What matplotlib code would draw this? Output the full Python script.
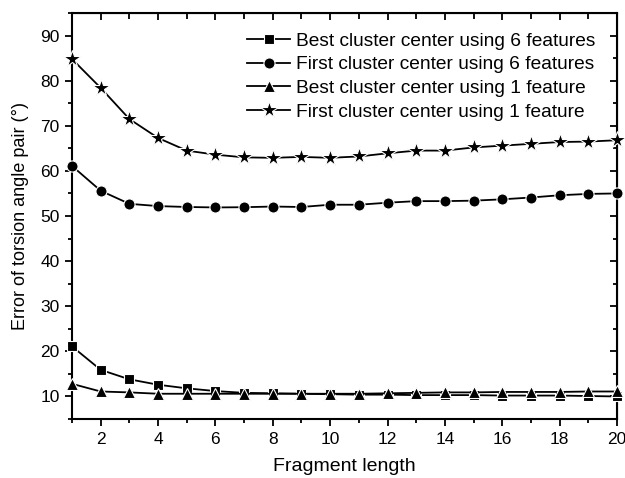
import matplotlib
matplotlib.use("Agg")
import matplotlib.pyplot as plt
from matplotlib.ticker import MultipleLocator

plt.rcParams['font.family'] = ['Liberation Sans', 'DejaVu Sans']

# Data
fragment_length = list(range(1, 21))
best_6 = [21.1, 15.9, 13.8, 12.6, 11.8, 11.2, 10.8, 10.7, 10.6, 10.5,
          10.4, 10.4, 10.3, 10.3, 10.3, 10.2, 10.2, 10.2, 10.1, 10.0]
first_6 = [61.1, 55.6, 52.7, 52.2, 52.0, 51.9, 51.95, 52.1, 52.0, 52.5,
           52.5, 52.95, 53.3, 53.3, 53.4, 53.7, 54.1, 54.6, 54.9, 55.0]
best_1 = [12.8, 11.1, 10.9, 10.6, 10.6, 10.6, 10.6, 10.6, 10.6, 10.6,
          10.6, 10.7, 10.8, 10.9, 10.9, 11.0, 11.0, 11.0, 11.1, 11.1]
first_1 = [84.8, 78.4, 71.5, 67.3, 64.5, 63.6, 63.0, 62.9, 63.1, 62.9,
           63.2, 63.9, 64.5, 64.5, 65.2, 65.6, 66.0, 66.4, 66.5, 66.8]
labels = ["Best cluster center using 6 features",
          "First cluster center using 6 features",
          "Best cluster center using 1 feature",
          "First cluster center using 1 feature"]
markers = ['s', 'o', '^', '*']
sizes = [7.5, 8, 8.5, 13]

fig = plt.figure(figsize=(6.25, 4.78), dpi=100)
ax = fig.add_axes([0.1152, 0.1234, 0.872, 0.8494])

for vals, mk, ms, lab in zip([best_6, first_6, best_1, first_1], markers, sizes, labels):
    ax.plot(fragment_length, vals, color='black', lw=1.3, marker=mk, ms=ms,
            mfc='black', mec='white', mew=0.8, label=lab, clip_on=False, zorder=3)

ax.set_xlim(1, 20)
ax.set_ylim(5, 95)
ax.xaxis.set_major_locator(MultipleLocator(2))
ax.xaxis.set_minor_locator(MultipleLocator(1))
ax.yaxis.set_minor_locator(MultipleLocator(5))
ax.set_yticks(range(10, 91, 10))

for s in ax.spines.values():
    s.set_linewidth(1.5)
ax.tick_params(which='major', direction='out', length=5, width=1.3, labelsize=12.5, pad=4)
ax.tick_params(which='minor', direction='out', length=3, width=1.3)

# top and right ticks point inward
top = ax.secondary_xaxis('top')
top.xaxis.set_major_locator(MultipleLocator(2))
top.xaxis.set_minor_locator(MultipleLocator(1))
top.tick_params(which='both', direction='in', labeltop=False, width=1.3)
top.tick_params(which='major', length=5)
top.tick_params(which='minor', length=4)
right = ax.secondary_yaxis('right')
right.yaxis.set_major_locator(MultipleLocator(10))
right.yaxis.set_minor_locator(MultipleLocator(5))
right.tick_params(which='both', direction='in', labelright=False, width=1.3)
right.tick_params(which='major', length=5)
right.tick_params(which='minor', length=3)

ax.set_xlabel("Fragment length", fontsize=14, labelpad=8)
ax.set_ylabel("Error of torsion angle pair (°)", fontsize=13, labelpad=8)

ax.legend(loc='upper right', frameon=False, fontsize=13.75, handlelength=2.25,
          handletextpad=0.3, labelspacing=0.33, borderaxespad=0.3,
          bbox_to_anchor=(0.985, 0.985))

fig.savefig("out.png", dpi=100)
